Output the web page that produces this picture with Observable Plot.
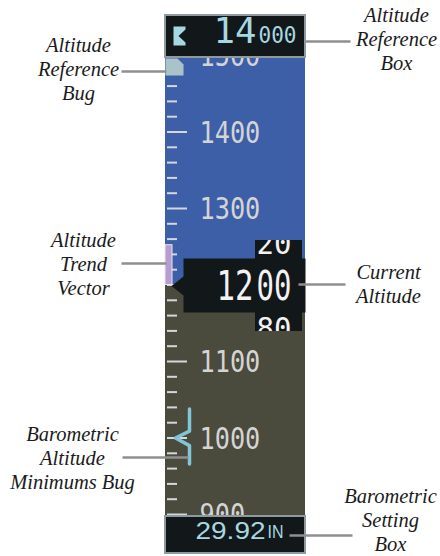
<!DOCTYPE html>
<html><head><meta charset="utf-8">
<script src="https://cdn.jsdelivr.net/npm/d3@7"></script>
<script src="https://cdn.jsdelivr.net/npm/@observablehq/plot@0.6"></script>
<style>html,body{margin:0;padding:0;background:#fff}</style>
</head><body><div id="chart"></div>
<script>
// ---- data ----
const currentAltitude = 1200;
const selectedAltitude = 14000;
const baroSetting = 29.92;
const baroUnit = "IN";
const minimumsAltitude = 1000;
const trendAltitude = 1252;
const horizonAltitude = 1200;
const majorTicks = [900, 1000, 1100, 1200, 1300, 1400, 1500];
const minorTicks = [920, 940, 960, 980, 1020, 1040, 1060, 1080, 1120, 1140, 1160, 1180,
  1220, 1240, 1260, 1280, 1320, 1340, 1360, 1380, 1420, 1440, 1460, 1480];
const rollingAbove = "20";
const rollingBelow = "80";
const callouts = [
  "Altitude\nReference\nBug", "Altitude\nReference\nBox", "Altitude\nTrend\nVector",
  "Current\nAltitude", "Barometric\nAltitude\nMinimums Bug", "Barometric\nSetting\nBox"
];

// ---- layout (pixels) ----
const W = 440, H = 556;
const pxPer100 = 76.5, yCurPx = 284.5;
const py = px => currentAltitude + (yCurPx - px) / pxPer100 * 100;
const yDomain = [py(H), py(0)];
const tape = {x1: 165, x2: 305, top: 56, bottom: 516};
const calloutPos = [
  {x: 78, y: 68, lx1: 121, ly: 71, lx2: 166},
  {x: 396, y: 38, lx1: 305, ly: 41, lx2: 350},
  {x: 83, y: 263, lx1: 121, ly: 263, lx2: 166},
  {x: 388, y: 283, lx1: 298, ly: 284, lx2: 345},
  {x: 72, y: 457, lx1: 122, ly: 457, lx2: 188},
  {x: 390, y: 519, lx1: 289, ly: 535, lx2: 352}
];
const cyan = "#a7d8e2", boxFill = "#12171a", boxStroke = "#8e9a9e";
const P = (x, y) => ({x, y: py(y)});

const pointerBox = [P(305,258),P(183,258),P(183,276),P(171,285.5),P(183,295),P(183,312),P(305,312),P(305,258)];
const refBug = [P(165,58),P(177,58),P(183,64),P(183,75),P(165,75),P(165,58)];
const refIcon = [P(173,26),P(185,26),P(185,29),P(178,35.5),P(185,42),P(185,45),P(173,45),P(173,26)];
const minBug = [{x:189, y:minimumsAltitude + 38},{x:189, y:minimumsAltitude + 9},{x:175, y:minimumsAltitude},
  {x:189, y:minimumsAltitude - 10},{x:189, y:minimumsAltitude - 34}];

const chart = Plot.plot({
  width: W, height: H, margin: 0,
  x: {domain: [0, W], range: [0, W], axis: null},
  y: {domain: yDomain, range: [H, 0], axis: null},
  style: {background: "transparent", overflow: "visible"},
  marks: [
    // tape background
    Plot.rect([0], {x1: tape.x1, x2: tape.x2, y1: horizonAltitude, y2: py(tape.top), fill: "#3c5fa8"}),
    Plot.rect([0], {x1: tape.x1, x2: tape.x2, y1: py(tape.bottom), y2: horizonAltitude, fill: "#4a4a3d"}),
    // ticks
    Plot.ruleY(minorTicks, {y: d => d, x1: 167, x2: 177, stroke: "#d4d8dc", strokeWidth: 2}),
    Plot.ruleY(majorTicks, {y: d => d, x1: 167, x2: 187, stroke: "#d4d8dc", strokeWidth: 2}),
    Plot.text(majorTicks, {x: 199, y: d => d, text: d => String(d), textAnchor: "start", dy: 1,
      fontFamily: "DejaVu Sans Mono", fontSize: 30, fill: "#d4d4d4", ariaDescription: "tapeLabels"}),
    // trend vector
    Plot.rect([0], {x1: 165, x2: 172, y1: currentAltitude, y2: trendAltitude, fill: "#b79dcf", stroke: "#ece6f2", strokeWidth: 1}),
    // altitude reference bug (parked at top)
    Plot.line(refBug, {x: "x", y: "y", fill: "#a9c3c9", stroke: "none"}),
    // minimums bug
    Plot.line(minBug, {x: "x", y: "y", stroke: "#80c6d6", strokeWidth: 3.5, strokeLinejoin: "round"}),
    // current altitude box
    Plot.line(pointerBox, {x: "x", y: "y", fill: boxFill, stroke: "none"}),
    Plot.rect([0], {x1: 255, x2: 302, y1: py(331), y2: py(240), fill: boxFill}),
    Plot.text(["12"], {x: 216, y: currentAltitude, text: d => d, textAnchor: "start", fontFamily: "DejaVu Sans Mono",
      fontSize: 41, fill: "#f2f2f2", dy: 2, ariaDescription: "curBig"}),
    Plot.text(["00", rollingAbove, rollingBelow], {x: 256, y: [currentAltitude, py(242), py(327)], text: d => d,
      textAnchor: "start", fontFamily: "DejaVu Sans Mono", fontSize: [41, 30, 30], fill: "#f2f2f2", dy: 2, ariaDescription: "rolling"}),
    // top reference box
    Plot.rect([0], {x1: 165, x2: 305, y1: py(57), y2: py(15), fill: boxFill, stroke: boxStroke, strokeWidth: 2}),
    Plot.line(refIcon, {x: "x", y: "y", fill: cyan, stroke: "none"}),
    Plot.text([String(selectedAltitude).slice(0, 2)], {x: 213, y: py(31), text: d => d, textAnchor: "start",
      fontFamily: "DejaVu Sans Mono", fontSize: 35, fill: cyan, ariaDescription: "selBig"}),
    Plot.text([String(selectedAltitude).slice(2)], {x: 258, y: py(35.5), text: d => d, textAnchor: "start",
      fontFamily: "DejaVu Sans Mono", fontSize: 23, fill: cyan, ariaDescription: "selSmall"}),
    // baro box
    Plot.rect([0], {x1: 165, x2: 305, y1: py(553), y2: py(516), fill: boxFill, stroke: boxStroke, strokeWidth: 2}),
    Plot.text([baroSetting.toFixed(2)], {x: 195, y: py(530.5), text: d => d, textAnchor: "start",
      fontFamily: "Liberation Sans", fontSize: 24, fill: cyan, ariaDescription: "baroNum"}),
    Plot.text([baroUnit], {x: 267, y: py(532), text: d => d, textAnchor: "start",
      fontFamily: "Liberation Sans", fontSize: 18, fill: cyan, ariaDescription: "baroUnit"}),
    // callouts
    Plot.link(calloutPos, {x1: "lx1", x2: "lx2", y1: d => py(d.ly), y2: d => py(d.ly), stroke: "#8f8f8f", strokeWidth: 2.5}),
    Plot.text(callouts, {x: (d, i) => calloutPos[i].x, y: (d, i) => py(calloutPos[i].y), text: d => d,
      fontFamily: "Liberation Serif", fontStyle: "italic", fontSize: 20.5, lineHeight: 1.17, fill: "#1b1b1b", lineAnchor: "middle"})
  ]
});

// condense the display digits
const s = d3.select(chart);
const fit = (label, lens) => s.selectAll(`g[aria-description="${label}"] text`).each(function(d, i) {
  const L = typeof lens === "function" ? lens(this.textContent) : Array.isArray(lens) ? lens[i] : lens;
  if (L) d3.select(this).attr("textLength", L).attr("lengthAdjust", "spacingAndGlyphs");
});
fit("tapeLabels", t => t.length * 15.2);
fit("curBig", 37);
fit("rolling", [35, 35, 35]);
fit("selBig", 43);
fit("selSmall", 38);
fit("baroNum", 70);
fit("baroUnit", 16);
// clip rolling digits to their window
const defs = s.insert("defs", ":first-child");
defs.append("clipPath").attr("id", "rollClip").append("rect").attr("x", 255).attr("y", 240).attr("width", 47).attr("height", 91);
const rg = s.select('g[aria-description="rolling"]').node();
if (rg) {
  const wrap = document.createElementNS("http://www.w3.org/2000/svg", "g");
  wrap.setAttribute("clip-path", "url(#rollClip)");
  rg.parentNode.insertBefore(wrap, rg);
  wrap.appendChild(rg);
}
document.getElementById("chart").append(chart);
</script>
</body></html>
